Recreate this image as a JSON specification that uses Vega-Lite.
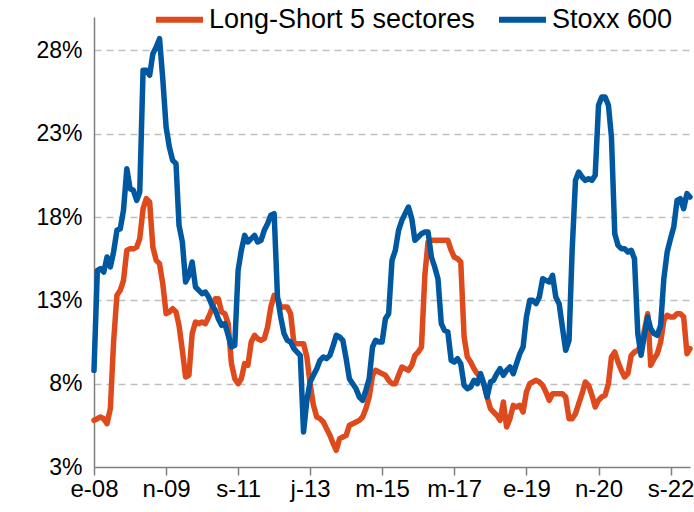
{
  "$schema": "https://vega.github.io/schema/vega-lite/v6.json",
  "width": 596,
  "height": 450,
  "autosize": {"type": "none"},
  "padding": {"left": 94, "top": 17, "right": 4, "bottom": 45},
  "background": "white",
  "config": {"view": {"stroke": null}, "font": "Liberation Sans"},
  "data": {"values": [
    {"d":"2008-01","ls":5.8,"sx":8.8},{"d":"2008-02","ls":5.9,"sx":14.8},{"d":"2008-03","ls":6.0,"sx":14.9},{"d":"2008-04","ls":5.9,"sx":14.7},{"d":"2008-05","ls":5.6,"sx":15.6},{"d":"2008-06","ls":6.5,"sx":15.0},{"d":"2008-07","ls":10.5,"sx":15.9},{"d":"2008-08","ls":13.3,"sx":17.2},{"d":"2008-09","ls":13.6,"sx":17.3},{"d":"2008-10","ls":14.2,"sx":18.4},{"d":"2008-11","ls":16.0,"sx":20.9},{"d":"2008-12","ls":16.1,"sx":19.7},
    {"d":"2009-01","ls":16.1,"sx":19.6},{"d":"2009-02","ls":16.2,"sx":19.0},{"d":"2009-03","ls":16.7,"sx":19.5},{"d":"2009-04","ls":18.5,"sx":26.8},{"d":"2009-05","ls":19.1,"sx":26.8},{"d":"2009-06","ls":18.9,"sx":26.5},{"d":"2009-07","ls":16.2,"sx":27.8},{"d":"2009-08","ls":15.4,"sx":28.2},{"d":"2009-09","ls":15.2,"sx":28.7},{"d":"2009-10","ls":14.0,"sx":26.3},{"d":"2009-11","ls":12.2,"sx":23.4},{"d":"2009-12","ls":12.3,"sx":22.2},
    {"d":"2010-01","ls":12.5,"sx":21.4},{"d":"2010-02","ls":12.3,"sx":21.2},{"d":"2010-03","ls":11.5,"sx":17.5},{"d":"2010-04","ls":10.0,"sx":16.5},{"d":"2010-05","ls":8.4,"sx":14.1},{"d":"2010-06","ls":8.5,"sx":14.5},{"d":"2010-07","ls":11.0,"sx":15.3},{"d":"2010-08","ls":11.7,"sx":13.8},{"d":"2010-09","ls":11.6,"sx":13.6},{"d":"2010-10","ls":11.7,"sx":13.4},{"d":"2010-11","ls":11.6,"sx":13.5},{"d":"2010-12","ls":12.0,"sx":13.2},
    {"d":"2011-01","ls":12.5,"sx":12.7},{"d":"2011-02","ls":13.1,"sx":12.4},{"d":"2011-03","ls":13.1,"sx":11.9},{"d":"2011-04","ls":12.3,"sx":11.5},{"d":"2011-05","ls":12.2,"sx":11.6},{"d":"2011-06","ls":11.6,"sx":10.9},{"d":"2011-07","ls":9.2,"sx":10.2},{"d":"2011-08","ls":8.3,"sx":10.3},{"d":"2011-09","ls":8.0,"sx":14.8},{"d":"2011-10","ls":8.3,"sx":16.0},{"d":"2011-11","ls":9.2,"sx":16.9},{"d":"2011-12","ls":9.1,"sx":16.5},
    {"d":"2012-01","ls":10.5,"sx":16.7},{"d":"2012-02","ls":10.9,"sx":16.9},{"d":"2012-03","ls":10.7,"sx":16.5},{"d":"2012-04","ls":10.6,"sx":16.6},{"d":"2012-05","ls":10.7,"sx":17.2},{"d":"2012-06","ls":11.4,"sx":17.6},{"d":"2012-07","ls":12.6,"sx":18.1},{"d":"2012-08","ls":13.3,"sx":18.2},{"d":"2012-09","ls":13.1,"sx":13.2},{"d":"2012-10","ls":12.6,"sx":12.0},{"d":"2012-11","ls":12.6,"sx":11.0},{"d":"2012-12","ls":12.6,"sx":10.6},
    {"d":"2013-01","ls":12.2,"sx":10.5},{"d":"2013-02","ls":10.4,"sx":10.1},{"d":"2013-03","ls":10.4,"sx":9.9},{"d":"2013-04","ls":10.4,"sx":9.7},{"d":"2013-05","ls":10.4,"sx":5.1},{"d":"2013-06","ls":9.6,"sx":7.0},{"d":"2013-07","ls":8.0,"sx":8.1},{"d":"2013-08","ls":6.7,"sx":8.5},{"d":"2013-09","ls":6.0,"sx":8.9},{"d":"2013-10","ls":5.9,"sx":9.4},{"d":"2013-11","ls":5.7,"sx":9.6},{"d":"2013-12","ls":5.3,"sx":9.5},
    {"d":"2014-01","ls":4.9,"sx":9.7},{"d":"2014-02","ls":4.4,"sx":10.3},{"d":"2014-03","ls":4.0,"sx":10.9},{"d":"2014-04","ls":4.7,"sx":10.8},{"d":"2014-05","ls":4.8,"sx":10.6},{"d":"2014-06","ls":4.9,"sx":9.5},{"d":"2014-07","ls":5.5,"sx":8.3},{"d":"2014-08","ls":5.6,"sx":8.0},{"d":"2014-09","ls":5.7,"sx":7.7},{"d":"2014-10","ls":5.8,"sx":7.2},{"d":"2014-11","ls":6.0,"sx":7.0},{"d":"2014-12","ls":6.5,"sx":7.6},
    {"d":"2015-01","ls":7.2,"sx":8.3},{"d":"2015-02","ls":8.5,"sx":10.2},{"d":"2015-03","ls":8.8,"sx":10.6},{"d":"2015-04","ls":8.7,"sx":10.5},{"d":"2015-05","ls":8.6,"sx":10.5},{"d":"2015-06","ls":8.5,"sx":11.9},{"d":"2015-07","ls":8.2,"sx":12.2},{"d":"2015-08","ls":8.0,"sx":15.4},{"d":"2015-09","ls":8.0,"sx":16.0},{"d":"2015-10","ls":8.5,"sx":17.2},{"d":"2015-11","ls":9.0,"sx":17.8},{"d":"2015-12","ls":8.9,"sx":18.2},
    {"d":"2016-01","ls":8.8,"sx":18.6},{"d":"2016-02","ls":9.1,"sx":17.9},{"d":"2016-03","ls":9.7,"sx":16.6},{"d":"2016-04","ls":9.9,"sx":16.8},{"d":"2016-05","ls":10.2,"sx":17.0},{"d":"2016-06","ls":14.5,"sx":17.1},{"d":"2016-07","ls":16.5,"sx":17.1},{"d":"2016-08","ls":16.6,"sx":15.6},{"d":"2016-09","ls":16.6,"sx":15.0},{"d":"2016-10","ls":16.6,"sx":14.3},{"d":"2016-11","ls":16.6,"sx":11.6},{"d":"2016-12","ls":16.6,"sx":11.2},
    {"d":"2017-01","ls":16.6,"sx":11.1},{"d":"2017-02","ls":16.0,"sx":9.4},{"d":"2017-03","ls":15.6,"sx":9.3},{"d":"2017-04","ls":15.5,"sx":9.5},{"d":"2017-05","ls":15.3,"sx":9.2},{"d":"2017-06","ls":10.8,"sx":7.9},{"d":"2017-07","ls":9.6,"sx":7.7},{"d":"2017-08","ls":9.3,"sx":7.8},{"d":"2017-09","ls":8.9,"sx":8.2},{"d":"2017-10","ls":8.6,"sx":8.0},{"d":"2017-11","ls":8.4,"sx":8.6},{"d":"2017-12","ls":8.0,"sx":8.0},
    {"d":"2018-01","ls":7.2,"sx":7.2},{"d":"2018-02","ls":6.5,"sx":8.1},{"d":"2018-03","ls":6.3,"sx":8.2},{"d":"2018-04","ls":6.1,"sx":8.6},{"d":"2018-05","ls":5.8,"sx":8.9},{"d":"2018-06","ls":6.9,"sx":8.5},{"d":"2018-07","ls":5.4,"sx":8.8},{"d":"2018-08","ls":5.9,"sx":9.0},{"d":"2018-09","ls":6.7,"sx":8.6},{"d":"2018-10","ls":6.6,"sx":9.2},{"d":"2018-11","ls":6.7,"sx":9.8},{"d":"2018-12","ls":6.3,"sx":10.2},
    {"d":"2019-01","ls":7.5,"sx":12.0},{"d":"2019-02","ls":8.0,"sx":13.0},{"d":"2019-03","ls":8.1,"sx":13.0},{"d":"2019-04","ls":8.2,"sx":12.8},{"d":"2019-05","ls":8.1,"sx":13.2},{"d":"2019-06","ls":7.9,"sx":14.3},{"d":"2019-07","ls":7.5,"sx":14.2},{"d":"2019-08","ls":7.0,"sx":14.1},{"d":"2019-09","ls":7.4,"sx":14.5},{"d":"2019-10","ls":7.4,"sx":13.2},{"d":"2019-11","ls":7.4,"sx":12.8},{"d":"2019-12","ls":7.4,"sx":11.4},
    {"d":"2020-01","ls":7.2,"sx":10.0},{"d":"2020-02","ls":5.9,"sx":10.6},{"d":"2020-03","ls":5.9,"sx":16.0},{"d":"2020-04","ls":6.2,"sx":20.2},{"d":"2020-05","ls":6.8,"sx":20.7},{"d":"2020-06","ls":7.4,"sx":20.4},{"d":"2020-07","ls":8.1,"sx":20.2},{"d":"2020-08","ls":7.9,"sx":20.3},{"d":"2020-09","ls":7.3,"sx":20.2},{"d":"2020-10","ls":6.6,"sx":20.5},{"d":"2020-11","ls":7.0,"sx":24.7},{"d":"2020-12","ls":7.2,"sx":25.2},
    {"d":"2021-01","ls":7.3,"sx":25.2},{"d":"2021-02","ls":8.0,"sx":24.7},{"d":"2021-03","ls":9.6,"sx":22.8},{"d":"2021-04","ls":9.9,"sx":17.0},{"d":"2021-05","ls":9.3,"sx":16.3},{"d":"2021-06","ls":8.8,"sx":16.1},{"d":"2021-07","ls":8.4,"sx":16.1},{"d":"2021-08","ls":8.6,"sx":15.9},{"d":"2021-09","ls":9.7,"sx":16.0},{"d":"2021-10","ls":9.9,"sx":15.5},{"d":"2021-11","ls":10.0,"sx":11.0},{"d":"2021-12","ls":10.3,"sx":9.7},
    {"d":"2022-01","ls":11.2,"sx":10.9},{"d":"2022-02","ls":12.2,"sx":12.0},{"d":"2022-03","ls":9.1,"sx":11.3},{"d":"2022-04","ls":9.5,"sx":11.0},{"d":"2022-05","ls":9.8,"sx":10.9},{"d":"2022-06","ls":10.5,"sx":11.5},{"d":"2022-07","ls":11.8,"sx":14.3},{"d":"2022-08","ls":12.1,"sx":15.9},{"d":"2022-09","ls":12.0,"sx":16.7},{"d":"2022-10","ls":12.0,"sx":17.4},{"d":"2022-11","ls":12.2,"sx":19.0},{"d":"2022-12","ls":12.2,"sx":19.1},
    {"d":"2023-01","ls":12.0,"sx":18.5},{"d":"2023-02","ls":9.8,"sx":19.4},{"d":"2023-03","ls":10.1,"sx":19.2}
  ]},
  "transform": [{"fold": ["ls", "sx"], "as": ["serie", "v"]}],
  "mark": {"type": "line", "strokeWidth": 5.5, "strokeJoin": "round", "strokeCap": "round"},
  "encoding": {
    "x": {
      "field": "d",
      "type": "temporal",
      "scale": {"type": "utc", "domain": [{"year": 2008, "month": 1, "date": 1, "utc": true}, {"year": 2023, "month": 3, "date": 1, "utc": true}]},
      "axis": {
        "title": null,
        "grid": false,
        "values": [
          {"year": 2008, "month": 1, "date": 1, "utc": true},
          {"year": 2009, "month": 11, "date": 1, "utc": true},
          {"year": 2011, "month": 9, "date": 1, "utc": true},
          {"year": 2013, "month": 7, "date": 1, "utc": true},
          {"year": 2015, "month": 5, "date": 1, "utc": true},
          {"year": 2017, "month": 3, "date": 1, "utc": true},
          {"year": 2019, "month": 1, "date": 1, "utc": true},
          {"year": 2020, "month": 11, "date": 1, "utc": true},
          {"year": 2022, "month": 9, "date": 1, "utc": true}
        ],
        "labelExpr": "['e','f','m','a','m','j','j','a','s','o','n','d'][utcmonth(datum.value)] + '-' + utcFormat(datum.value, '%y')",
        "labelFont": "Liberation Sans",
        "labelFontSize": 24,
        "labelColor": "#000000",
        "labelPadding": 2,
        "labelFlush": false,
        "labelOverlap": false,
        "domainColor": "#7f7f7f",
        "domainWidth": 1.5,
        "tickColor": "#7f7f7f",
        "tickWidth": 1.5,
        "tickSize": 8
      }
    },
    "y": {
      "field": "v",
      "type": "quantitative",
      "scale": {"domain": [3, 30], "nice": false, "zero": false},
      "axis": {
        "title": null,
        "values": [3, 8, 13, 18, 23, 28],
        "labelExpr": "datum.value + '%'",
        "labelFont": "Liberation Sans",
        "labelFontSize": 23,
        "labelColor": "#000000",
        "labelPadding": 12,
        "ticks": false,
        "grid": true,
        "gridColor": "#BFBFBF",
        "gridWidth": 1.5,
        "gridDash": [7, 5],
        "gridOpacity": {"condition": {"test": "datum.value == 3", "value": 0}, "value": 1},
        "domainColor": "#7f7f7f",
        "domainWidth": 1.5
      }
    },
    "color": {
      "field": "serie",
      "type": "nominal",
      "scale": {"domain": ["ls", "sx"], "range": ["#DE4A1B", "#0058A0"]},
      "legend": {
        "title": null,
        "orient": "none",
        "legendX": 59,
        "legendY": -24,
        "direction": "horizontal",
        "padding": 0,
        "symbolType": "stroke",
        "symbolSize": 2209,
        "symbolStrokeWidth": 6,
        "labelFont": "Liberation Sans",
        "labelFontSize": 27,
        "labelColor": "#000000",
        "labelOffset": 3,
        "columnPadding": 12,
        "labelLimit": 400,
        "labelExpr": "datum.label == 'ls' ? 'Long-Short 5 sectores' : 'Stoxx 600'"
      }
    }
  }
}
